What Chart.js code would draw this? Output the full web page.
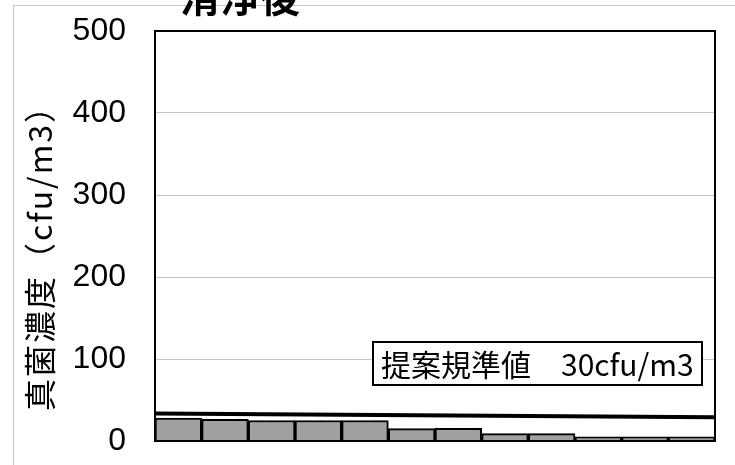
<!DOCTYPE html>
<html>
<head>
<meta charset="utf-8">
<script src="https://cdn.jsdelivr.net/npm/chart.js@4/dist/chart.umd.min.js"></script>
<style>
  html, body { margin: 0; padding: 0; background: #ffffff; }
  canvas { display: block; }
</style>
</head>
<body>
<canvas id="c" width="735" height="465"></canvas>
<script>
// ---- data ----
const categories = ["1","2","3","4","5","6","7","8","9","10","11","12"];
const fungiValues = [28, 26.5, 25, 25, 25, 15, 15.5, 9, 9, 5, 5, 5];
const standardLine = [{x: 0, y: 33.5}, {x: 12, y: 29}];
const yTicks = [0, 100, 200, 300, 400, 500];
const titleText = "清浄後";
const yTitleText = "真菌濃度（cfu/m3）";
const standardLabel = "提案規準値　30cfu/m3";

const cjk = "'Noto Sans CJK JP', 'Noto Sans', sans-serif";
const tickFont = "'Liberation Sans', 'Noto Sans', sans-serif";

const decor = {
  id: 'decor',
  beforeDraw(chart) {
    const ctx = chart.ctx;
    ctx.save();
    ctx.fillStyle = '#ffffff';
    ctx.fillRect(0, 0, chart.width, chart.height);
    ctx.strokeStyle = '#c8c8c8';
    ctx.lineWidth = 1;
    ctx.strokeRect(13.5, 5.5, 900, 900);
    ctx.restore();
  },
  afterDraw(chart) {
    const ctx = chart.ctx;
    const a = chart.chartArea;
    ctx.save();
    // plot border
    ctx.strokeStyle = '#000';
    ctx.lineWidth = 2;
    ctx.strokeRect(a.left, a.top, a.right - a.left, a.bottom - a.top);
    // title (cropped at top)
    ctx.fillStyle = '#000';
    ctx.font = "bold 40px " + cjk;
    ctx.textAlign = 'center';
    ctx.textBaseline = 'alphabetic';
    ctx.fillText(titleText, 240, 12);
    // y axis title
    ctx.save();
    ctx.translate(40, 250);
    ctx.rotate(-Math.PI / 2);
    ctx.font = "32px " + cjk;
    if ('letterSpacing' in ctx) ctx.letterSpacing = '2px';
    ctx.textAlign = 'center';
    ctx.textBaseline = 'middle';
    ctx.fillText(yTitleText, 0, 0);
    ctx.restore();
    // standard label box
    const bx = 373, by = 342, bw = 329, bh = 43;
    ctx.fillStyle = '#fff';
    ctx.fillRect(bx, by, bw, bh);
    ctx.strokeStyle = '#000';
    ctx.lineWidth = 2;
    ctx.strokeRect(bx, by, bw, bh);
    ctx.fillStyle = '#000';
    ctx.font = "30px " + cjk;
    ctx.textAlign = 'left';
    ctx.textBaseline = 'middle';
    ctx.fillText(standardLabel, bx + 8, by + bh / 2 + 1);
    ctx.restore();
  }
};

new Chart(document.getElementById('c'), {
  data: {
    labels: categories,
    datasets: [
      {
        type: 'line',
        data: standardLine,
        xAxisID: 'x2',
        borderColor: '#000',
        borderWidth: 4,
        pointRadius: 0,
        fill: false,
        order: 0
      },
      {
        type: 'bar',
        data: fungiValues,
        xAxisID: 'x',
        backgroundColor: '#a0a0a0',
        borderColor: '#000',
        borderWidth: 2,
        grouped: false,
        barPercentage: 1,
        categoryPercentage: 1,
        order: 1
      }
    ]
  },
  options: {
    responsive: false,
    animation: false,
    devicePixelRatio: 1,
    layout: { padding: { left: 0, right: 20, top: 31, bottom: 24 } },
    plugins: { legend: { display: false }, tooltip: { enabled: false }, title: { display: false } },
    scales: {
      x: { type: 'category', display: false, grid: { display: false } },
      x2: { type: 'linear', min: 0, max: 12, display: false },
      y: {
        min: 0, max: 500,
        afterBuildTicks(s) { s.ticks = yTicks.map(v => ({ value: v })); },
        afterFit(s) { s.width = 155; s.paddingTop = 0; s.paddingBottom = 0; },
        ticks: {
          color: '#000',
          padding: 29,
          font: { family: tickFont, size: 32 }
        },
        grid: { color: '#c4c4c4', lineWidth: 1, drawTicks: false },
        border: { display: false }
      }
    }
  },
  plugins: [decor]
});
</script>
</body>
</html>
